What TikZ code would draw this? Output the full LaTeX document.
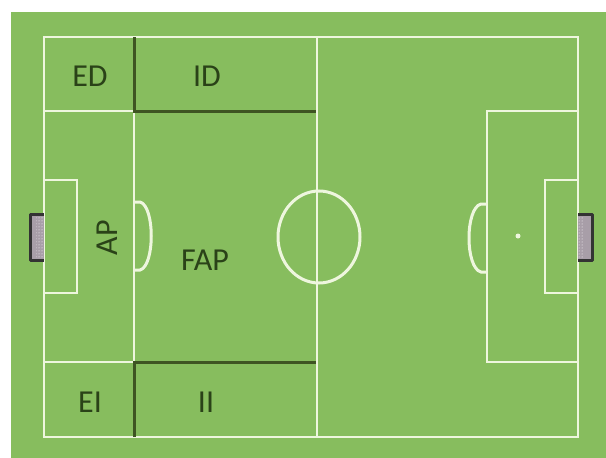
\documentclass[tikz,border=0pt]{standalone}
\usepackage{fontspec}
\setmainfont{Carlito}
\usetikzlibrary{patterns}
\definecolor{pitchgreen}{RGB}{135,189,94}
\definecolor{zoneline}{RGB}{62,84,34}
\definecolor{zonetext}{RGB}{42,66,24}
\definecolor{chalk}{RGB}{238,246,222}
\definecolor{netgrey}{RGB}{168,158,168}
\begin{document}
\begin{tikzpicture}[x=1pt, y=-1pt,
    chalkline/.style={draw=chalk, line width=2.2pt},
    thickchalk/.style={draw=chalk, line width=3pt},
    zone/.style={draw=zoneline, line width=3pt},
    goalnet/.style={draw=black!80, line width=3pt, line join=round},
    zonelabel/.style={text=zonetext, font=\fontsize{32}{32}\selectfont, inner sep=0pt}]

    \useasboundingbox (0,0) rectangle (606,458);
    \fill [white] (0,0) rectangle (606,458);
    \fill [pitchgreen] (11,12) rectangle (606,458);

    % pitch lines
    \draw [chalkline] (44,37) rectangle (578,437);
    \draw [chalkline] (317,37) -- (317,437);
    \draw [chalkline] (44,111) -- (134,111);
    \draw [chalkline] (44,362) -- (134,362);
    \draw [chalkline] (134,111) -- (134,362);
    \draw [chalkline] (578,111) -- (487,111) -- (487,362) -- (578,362);
    \draw [chalkline] (44,180) -- (77,180) -- (77,293) -- (44,293);
    \draw [chalkline] (578,180) -- (545,180) -- (545,293) -- (578,293);

    % circle and arcs
    \draw [thickchalk] (319,237) ellipse [x radius=41, y radius=46];
    \draw [thickchalk] (134,202) -- (140,202) .. controls (155,206) and (155,266) .. (140,270) -- (134,270);
    \draw [thickchalk] (487,204) -- (481,204) .. controls (465,208) and (465,268) .. (481,272) -- (487,272);
    \fill [chalk] (518,236) circle [radius=2.5];

    % goals
    \fill [netgrey] (30,214) rectangle (44,260);
    \fill [pattern=dots, pattern color=white] (36,215) rectangle (44,259);
    \draw [goalnet] (44,214) -- (30,214) -- (30,260) -- (44,260);
    \fill [netgrey] (578,214) rectangle (592,260);
    \fill [pattern=dots, pattern color=white] (578,215) rectangle (584,259);
    \draw [goalnet] (578,214) -- (592,214) -- (592,260) -- (578,260);

    % zones
    \draw [zone] (134,37) -- (134,111) -- (316,111);
    \draw [zone] (134,437) -- (134,362) -- (316,362);

    \node [zonelabel] (ed) at (90,76) {ED};
    \node [zonelabel] (id) at (207,76) {ID};
    \node [zonelabel] (ei) at (90,402) {EI};
    \node [zonelabel] (ii) at (206,402) {II};
    \node [zonelabel] (fap) at (205,260) {FAP};
    \node [zonelabel, rotate=90] (ap) at (107,238) {AP};
\end{tikzpicture}
\end{document}
